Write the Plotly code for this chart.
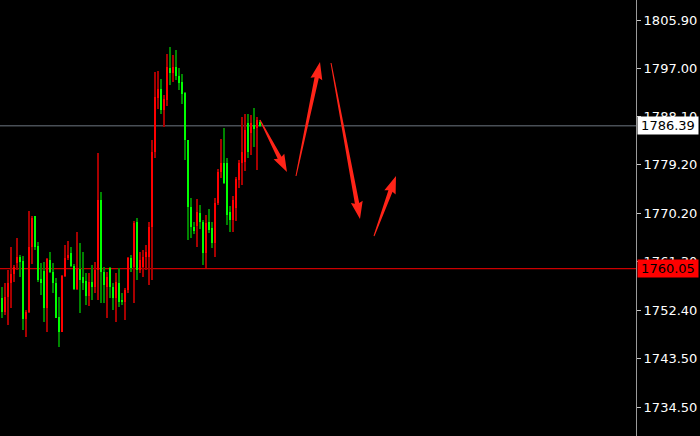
import plotly.graph_objects as go
import math

# ---- data (candles, left to right) ----
opens = [1754.6, 1752.1, 1754.8, 1757.4, 1759.1, 1761.1, 1762.2, 1761.5, 1750.8, 1752.0,
         1764.1, 1769.8, 1764.2, 1758.1, 1759.6, 1752.9, 1761.6, 1759.4, 1757.4, 1751.1,
         1748.4, 1758.7, 1762.0, 1762.9, 1760.5, 1756.3, 1760.0, 1758.6, 1757.8, 1755.0,
         1757.6, 1756.6, 1759.8, 1772.7, 1759.4, 1756.6, 1760.2, 1756.7, 1754.6, 1757.5,
         1754.3, 1753.9, 1756.1, 1762.0, 1760.3, 1768.6, 1759.8, 1760.4, 1762.2, 1762.2,
         1767.8, 1781.6, 1791.5, 1793.2, 1789.3, 1791.2, 1797.1, 1796.2, 1797.3, 1795.6,
         1794.4, 1792.4, 1783.8, 1771.4, 1767.8, 1768.0, 1770.3, 1768.7, 1763.0, 1768.6,
         1767.5, 1764.8, 1772.2, 1777.8, 1779.6, 1779.5, 1770.5, 1769.0, 1771.3, 1776.4,
         1779.6, 1779.7, 1786.9, 1785.0, 1786.5, 1785.9, 1787.1]
highs = [1756.7, 1757.4, 1759.8, 1764.0, 1760.8, 1765.7, 1762.6, 1762.4, 1752.4, 1770.7,
         1769.8, 1769.8, 1764.9, 1761.1, 1761.3, 1762.0, 1763.1, 1761.1, 1758.3, 1754.8,
         1758.9, 1764.4, 1765.2, 1764.0, 1760.9, 1766.8, 1764.8, 1763.2, 1759.2, 1759.2,
         1760.7, 1761.3, 1781.4, 1774.2, 1760.3, 1759.5, 1760.4, 1757.4, 1759.2, 1760.2,
         1755.6, 1756.5, 1762.2, 1762.6, 1768.8, 1769.4, 1763.1, 1763.5, 1764.5, 1768.6,
         1783.8, 1796.3, 1796.5, 1795.0, 1792.0, 1799.7, 1801.0, 1799.5, 1800.3, 1797.0,
         1796.0, 1792.6, 1783.8, 1773.0, 1768.6, 1772.9, 1771.8, 1769.0, 1770.0, 1771.0,
         1768.6, 1773.0, 1778.5, 1784.0, 1786.0, 1780.5, 1771.6, 1773.5, 1777.0, 1780.0,
         1788.0, 1788.5, 1788.6, 1788.3, 1789.7, 1788.0, 1787.4]
lows = [1751.0, 1751.5, 1749.7, 1752.8, 1757.6, 1759.8, 1758.5, 1748.7, 1747.5, 1751.9,
        1761.0, 1763.5, 1757.6, 1755.2, 1750.2, 1748.4, 1759.2, 1755.6, 1751.0, 1745.6,
        1748.3, 1758.5, 1761.6, 1760.3, 1756.1, 1756.1, 1751.9, 1756.1, 1753.4, 1753.2,
        1754.3, 1755.5, 1754.3, 1753.7, 1753.7, 1751.0, 1754.6, 1752.4, 1750.2, 1753.0,
        1753.3, 1750.6, 1755.6, 1759.4, 1753.7, 1757.9, 1759.2, 1758.5, 1759.8, 1757.0,
        1758.0, 1780.5, 1789.5, 1788.5, 1786.2, 1790.0, 1793.9, 1794.5, 1794.8, 1793.0,
        1790.5, 1780.0, 1765.3, 1765.7, 1766.4, 1764.0, 1767.4, 1760.8, 1760.1, 1766.6,
        1763.8, 1762.3, 1771.8, 1776.8, 1775.7, 1768.2, 1766.8, 1766.8, 1768.8, 1775.0,
        1775.5, 1778.0, 1780.5, 1781.0, 1782.5, 1778.2, 1786.2]
closes = [1752.1, 1754.8, 1757.4, 1759.1, 1760.4, 1762.2, 1761.3, 1750.8, 1752.1, 1764.1,
          1769.4, 1764.1, 1758.0, 1757.5, 1752.9, 1761.8, 1759.4, 1757.4, 1751.0, 1748.4,
          1758.7, 1762.0, 1762.6, 1760.5, 1756.3, 1760.2, 1758.0, 1757.5, 1755.0, 1757.6,
          1756.6, 1759.8, 1772.7, 1759.4, 1757.0, 1758.5, 1756.7, 1754.6, 1757.6, 1753.9,
          1753.9, 1756.1, 1762.0, 1760.2, 1768.5, 1759.8, 1761.7, 1762.3, 1763.1, 1767.8,
          1781.6, 1791.7, 1793.2, 1789.3, 1791.3, 1797.2, 1796.2, 1797.3, 1795.5, 1794.2,
          1792.2, 1783.8, 1771.4, 1767.7, 1767.0, 1770.5, 1768.7, 1762.9, 1768.5, 1767.2,
          1764.8, 1772.2, 1777.8, 1779.6, 1775.9, 1769.9, 1769.0, 1772.8, 1776.6, 1779.6,
          1781.5, 1785.6, 1781.6, 1786.9, 1785.8, 1787.4, 1786.39]

tick_vals = [1805.90, 1797.00, 1788.10, 1779.20, 1770.20, 1761.30, 1752.40, 1743.50, 1734.50]
tick_text = ["1805.90", "1797.00", "1788.10", "1779.20", "1770.20", "1761.30", "1752.40", "1743.50", "1734.50"]

bid_price = 1786.39
level_price = 1760.05

# arrows (start bar index, start price) -> (end bar index, end price)
arrow_start_x = [86.0, 98.0, 109.67, 124.0]
arrow_start_y = [1787.46, 1777.14, 1797.97, 1766.08]
arrow_end_x = [95.0, 106.0, 119.33, 131.33]
arrow_end_y = [1777.88, 1798.16, 1769.21, 1777.14]

# ---- layout constants ----
W, H = 700, 436
PLOT_W = 636
X_RANGE = [-0.667, 211.333]
Y_RANGE = [1729.21, 1809.587]

UP_BODY, UP_WICK = "#ff0000", "#a80000"
DN_BODY, DN_WICK = "#00ff00", "#008400"
ARROW_COLOR = "#ff2418"

idx = list(range(len(opens)))
is_up = [c >= o for o, c in zip(opens, closes)]

fig = go.Figure()
# wicks
fig.add_trace(go.Bar(
    x=idx, base=lows, y=[h - l for h, l in zip(highs, lows)],
    width=0.34, marker=dict(color=[UP_WICK if u else DN_WICK for u in is_up], line=dict(width=0)),
    hoverinfo="skip", showlegend=False))
# bodies
body_base = [min(o, c) for o, c in zip(opens, closes)]
body_h = [max(abs(c - o), 0.3) for o, c in zip(opens, closes)]
fig.add_trace(go.Bar(
    x=idx, base=body_base, y=body_h,
    width=0.67, marker=dict(color=[UP_BODY if u else DN_BODY for u in is_up], line=dict(width=0)),
    hoverinfo="skip", showlegend=False))

# ---- arrows as filled paths ----
sx = PLOT_W / (X_RANGE[1] - X_RANGE[0])
sy = H / (Y_RANGE[1] - Y_RANGE[0])

def to_px(x, y):
    return ((x - X_RANGE[0]) * sx, (Y_RANGE[1] - y) * sy)

def to_data(px, py):
    return (px / sx + X_RANGE[0], Y_RANGE[1] - py / sy)

shapes = []
for x0, y0, x1, y1 in zip(arrow_start_x, arrow_start_y, arrow_end_x, arrow_end_y):
    p0 = to_px(x0, y0)
    p1 = to_px(x1, y1)
    dx, dy = p1[0] - p0[0], p1[1] - p0[1]
    L = math.hypot(dx, dy)
    ux, uy = dx / L, dy / L
    nx, ny = -uy, ux
    hl, hw, tw, bw = 16.0, 6.0, 0.5, 2.2
    bx, by = p1[0] - ux * hl, p1[1] - uy * hl
    pts = [
        (p0[0] + nx * tw, p0[1] + ny * tw),
        (bx + nx * bw, by + ny * bw),
        (bx + nx * hw - ux * 1.5, by + ny * hw - uy * 1.5),
        p1,
        (bx - nx * hw - ux * 1.5, by - ny * hw - uy * 1.5),
        (bx - nx * bw, by - ny * bw),
        (p0[0] - nx * tw, p0[1] - ny * tw),
    ]
    dpts = [to_data(*p) for p in pts]
    path = "M " + " L ".join(f"{a:.4f},{b:.4f}" for a, b in dpts) + " Z"
    shapes.append(dict(type="path", xref="x", yref="y", path=path,
                       fillcolor=ARROW_COLOR, line=dict(width=0), layer="above"))

# horizontal lines
shapes.append(dict(type="line", xref="paper", yref="y", x0=0, x1=1, y0=bid_price, y1=bid_price,
                   line=dict(color="#6e7681", width=1), layer="below"))
shapes.append(dict(type="line", xref="paper", yref="y", x0=0, x1=1, y0=level_price, y1=level_price,
                   line=dict(color="#ff0000", width=1), layer="below"))

annotations = [
    dict(xref="paper", yref="y", x=1, y=bid_price, xanchor="left", yanchor="middle", xshift=1,
         text=f"{bid_price:.2f}", showarrow=False, bgcolor="#ffffff", width=58, height=15,
         borderpad=1, font=dict(family="DejaVu Sans", size=13, color="#000000")),
    dict(xref="paper", yref="y", x=1, y=level_price, xanchor="left", yanchor="middle", xshift=1,
         text=f"{level_price:.2f}", showarrow=False, bgcolor="#ff0000", width=58, height=15,
         borderpad=1, font=dict(family="DejaVu Sans", size=13, color="#000000")),
]

fig.update_layout(
    width=W, height=H,
    margin=dict(l=0, r=W - PLOT_W, t=0, b=0),
    paper_bgcolor="#000000", plot_bgcolor="#000000",
    barmode="overlay", bargap=0,
    shapes=shapes, annotations=annotations,
    showlegend=False,
    xaxis=dict(range=X_RANGE, visible=False, showgrid=False, zeroline=False, fixedrange=True),
    yaxis=dict(range=Y_RANGE, side="right", showgrid=False, zeroline=False,
               tickvals=tick_vals, ticktext=tick_text, ticks="outside", ticklen=4,
               tickcolor="#c8c8c8", showline=True, linecolor="#9a9a9a", linewidth=1,
               tickfont=dict(family="DejaVu Sans", size=13, color="#ffffff"), fixedrange=True),
)

fig.write_html(
    "out.html",
    config={"displayModeBar": False, "staticPlot": True},
    post_script="document.body.style.margin='0';document.body.style.background='#000';"
                "document.documentElement.style.background='#000';",
)
